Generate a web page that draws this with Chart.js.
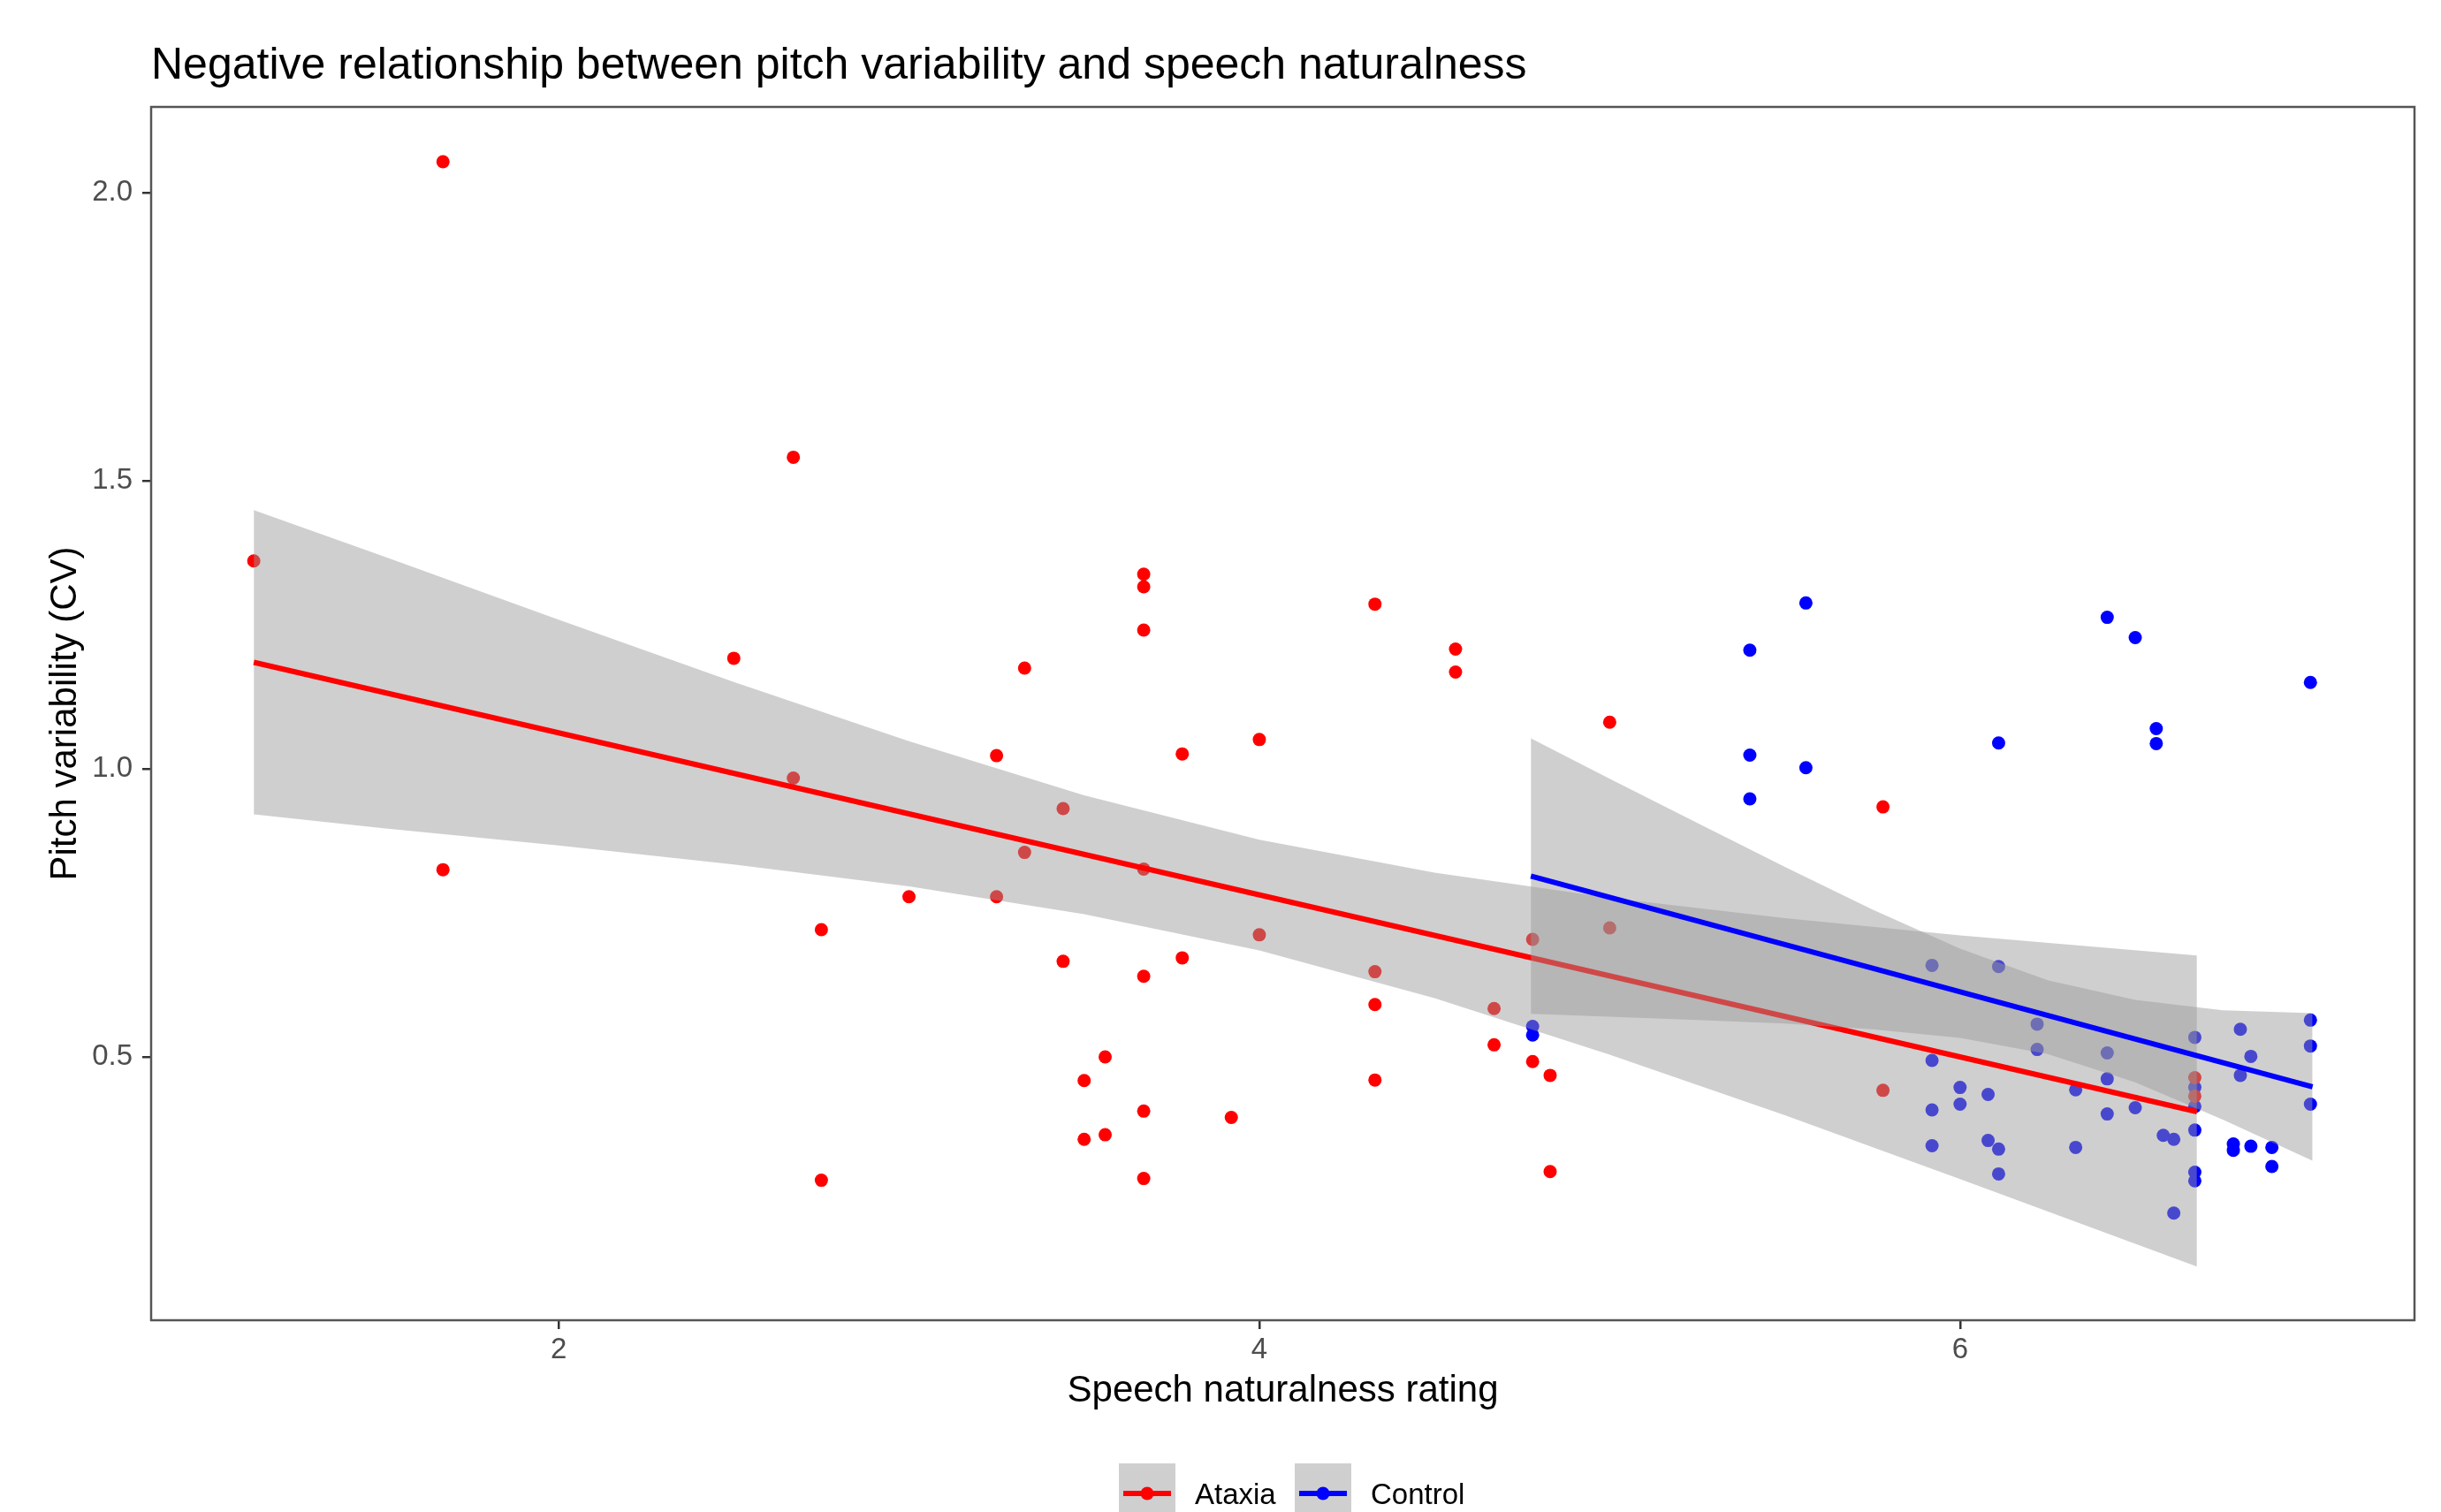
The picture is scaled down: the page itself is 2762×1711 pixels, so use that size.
<!DOCTYPE html>
<html lang="en">
<head>
<meta charset="utf-8">
<title>Pitch variability vs speech naturalness</title>
<script src="https://cdn.jsdelivr.net/npm/chart.js@4.4.0/dist/chart.umd.min.js"></script>
<style>
  html, body { margin: 0; padding: 0; background: #fff; }
</style>
</head>
<body>
<canvas id="myChart" width="2762" height="1711"></canvas>
<script>
// points: Ataxia group (x = naturalness rating, y = pitch CV)
var ataxiaX = [1.13, 1.67, 1.67, 2.5, 2.67, 2.67, 2.75, 2.75, 3.0, 3.25,
               3.25, 3.33, 3.33, 3.44, 3.44, 3.5, 3.5, 3.56, 3.56, 3.67,
               3.67, 3.67, 3.67, 3.67, 3.67, 3.67, 3.78, 3.78, 3.92, 4.0,
               4.0, 4.33, 4.33, 4.33, 4.33, 4.56, 4.56, 4.67, 4.67, 4.78,
               4.78, 4.83, 4.83, 5.0, 5.0, 5.78, 5.78, 6.67, 6.67];
var ataxiaY = [1.361, 2.054, 0.825, 1.192, 1.541, 0.984, 0.721, 0.286, 0.778, 1.023,
               0.778, 1.175, 0.855, 0.931, 0.666, 0.459, 0.357, 0.500, 0.365, 1.338,
               1.316, 1.241, 0.826, 0.640, 0.406, 0.289, 1.026, 0.672, 0.395, 1.051,
               0.712, 1.286, 0.648, 0.591, 0.460, 1.208, 1.168, 0.584, 0.521, 0.704,
               0.492, 0.468, 0.301, 1.081, 0.724, 0.934, 0.442, 0.464, 0.432];

// points: Control group
var controlX = [4.78, 4.78, 5.4, 5.4, 5.4, 5.56, 5.56, 5.92, 5.92, 5.92,
                5.92, 6.0, 6.0, 6.08, 6.08, 6.11, 6.11, 6.11, 6.11, 6.22,
                6.22, 6.33, 6.33, 6.42, 6.42, 6.42, 6.42, 6.5, 6.5, 6.56,
                6.56, 6.58, 6.61, 6.61, 6.67, 6.67, 6.67, 6.67, 6.67, 6.67,
                6.78, 6.78, 6.8, 6.8, 6.83, 6.83, 6.89, 6.89, 7.0, 7.0,
                7.0, 7.0];
var controlY = [0.553, 0.538, 1.206, 1.024, 0.948, 1.288, 1.002, 0.659, 0.494, 0.408,
                0.346, 0.447, 0.418, 0.435, 0.355, 1.045, 0.657, 0.340, 0.297, 0.557,
                0.513, 0.443, 0.343, 1.263, 0.507, 0.462, 0.401, 1.228, 0.412, 1.070,
                1.044, 0.364, 0.357, 0.229, 0.534, 0.447, 0.414, 0.373, 0.300, 0.285,
                0.349, 0.338, 0.548, 0.468, 0.501, 0.345, 0.343, 0.310, 1.150, 0.564,
                0.519, 0.418];

// fitted lines (end points)
var ataxiaLineX = [1.13, 6.676];
var ataxiaLineY = [1.185, 0.405];
var controlLineX = [4.775, 7.006];
var controlLineY = [0.814, 0.448];

// confidence bands
var ataxiaBandX     = [1.13, 1.5, 2.0, 2.5, 3.0, 3.5, 4.0, 4.5, 5.0, 5.5, 6.0, 6.676];
var ataxiaBandUpper = [1.449, 1.369, 1.259, 1.151, 1.048, 0.954, 0.877, 0.820, 0.776, 0.741, 0.711, 0.676];
var ataxiaBandLower = [0.921, 0.897, 0.867, 0.834, 0.796, 0.748, 0.685, 0.602, 0.504, 0.399, 0.288, 0.136];
var controlBandX     = [4.775, 5.0, 5.25, 5.5, 5.75, 6.0, 6.25, 6.5, 6.75, 7.006];
var controlBandUpper = [1.053, 0.983, 0.906, 0.830, 0.756, 0.688, 0.633, 0.599, 0.581, 0.576];
var controlBandLower = [0.575, 0.570, 0.564, 0.558, 0.548, 0.533, 0.505, 0.456, 0.391, 0.320];

// axes
var xTicks = [2, 4, 6];
var yTicks = [0.5, 1.0, 1.5, 2.0];

var FONT = '"Liberation Sans", Arial, Helvetica, sans-serif';
var RIBBON = 'rgba(153,153,153,0.47)';

function pts(xs, ys) {
  return xs.map(function (x, i) { return { x: x, y: ys[i] }; });
}

// タイトル・凡例・枠線
var decor = {
  id: 'decor',
  afterDatasetsDraw: function (chart) {
    var a = chart.chartArea, ctx = chart.ctx;
    ctx.save();
    ctx.strokeStyle = '#555555';
    ctx.lineWidth = 2.5;
    ctx.strokeRect(a.left, a.top, a.right - a.left, a.bottom - a.top);
    ctx.restore();
  },
  afterDraw: function (chart) {
    var a = chart.chartArea, ctx = chart.ctx;
    ctx.save();
    ctx.fillStyle = '#000';
    ctx.font = '50px ' + FONT;
    ctx.textBaseline = 'alphabetic';
    ctx.fillText('Negative relationship between pitch variability and speech naturalness', a.left, 89);

    var items = [
      { label: 'Ataxia', color: '#ff0000', x: 1266 },
      { label: 'Control', color: '#0000ff', x: 1465 }
    ];
    items.forEach(function (it) {
      ctx.fillStyle = RIBBON;
      ctx.fillRect(it.x, 1656, 64, 70);
      ctx.strokeStyle = it.color;
      ctx.lineWidth = 6;
      ctx.beginPath();
      ctx.moveTo(it.x + 5, 1690);
      ctx.lineTo(it.x + 59, 1690);
      ctx.stroke();
      ctx.fillStyle = it.color;
      ctx.beginPath();
      ctx.arc(it.x + 32, 1690, 7.5, 0, Math.PI * 2);
      ctx.fill();
      ctx.fillStyle = '#000';
      ctx.font = '33px ' + FONT;
      ctx.fillText(it.label, it.x + 86, 1702);
    });
    ctx.restore();
  }
};

var ctx = document.getElementById('myChart').getContext('2d');
var chart = new Chart(ctx, {
  type: 'scatter',
  data: {
    datasets: [
      { type: 'scatter', data: pts(ataxiaX, ataxiaY), pointRadius: 7.5, pointBackgroundColor: '#ff0000',
        pointBorderWidth: 0, pointBorderColor: 'rgba(0,0,0,0)', order: 5 },
      { type: 'scatter', data: pts(controlX, controlY), pointRadius: 7.5, pointBackgroundColor: '#0000ff',
        pointBorderWidth: 0, pointBorderColor: 'rgba(0,0,0,0)', order: 5 },
      // Ataxia band
      { type: 'line', data: pts(ataxiaBandX, ataxiaBandLower), showLine: true, pointRadius: 0,
        borderWidth: 1, borderColor: 'rgba(0,0,0,0)', fill: false, order: 4 },
      { type: 'line', data: pts(ataxiaBandX, ataxiaBandUpper), showLine: true, pointRadius: 0,
        borderWidth: 1, borderColor: 'rgba(0,0,0,0)', backgroundColor: RIBBON, fill: '-1', order: 4 },
      { type: 'line', data: pts(ataxiaLineX, ataxiaLineY), showLine: true, pointRadius: 0,
        borderWidth: 6, borderColor: '#ff0000', fill: false, order: 3 },
      // Control band
      { type: 'line', data: pts(controlBandX, controlBandLower), showLine: true, pointRadius: 0,
        borderWidth: 1, borderColor: 'rgba(0,0,0,0)', fill: false, order: 2 },
      { type: 'line', data: pts(controlBandX, controlBandUpper), showLine: true, pointRadius: 0,
        borderWidth: 1, borderColor: 'rgba(0,0,0,0)', backgroundColor: RIBBON, fill: '-1', order: 2 },
      { type: 'line', data: pts(controlLineX, controlLineY), showLine: true, pointRadius: 0,
        borderWidth: 6, borderColor: '#0000ff', fill: false, order: 1 }
    ]
  },
  options: {
    responsive: false,
    animation: false,
    events: [],
    layout: { padding: { left: 0, right: 30, top: 121, bottom: 107 } },
    plugins: {
      legend: { display: false },
      tooltip: { enabled: false },
      title: { display: false }
    },
    scales: {
      x: {
        type: 'linear', min: 0.837, max: 7.297,
        afterBuildTicks: function (s) { s.ticks = xTicks.map(function (v) { return { value: v }; }); },
        afterFit: function (s) { s.height = 110; },
        ticks: { font: { family: FONT, size: 33 }, color: '#4d4d4d', padding: 4, maxRotation: 0,
                 callback: function (v) { return String(v); } },
        grid: { drawOnChartArea: false, drawTicks: true, tickLength: 10, color: '#333333', lineWidth: 2.5 },
        border: { display: false },
        title: { display: true, text: 'Speech naturalness rating', color: '#000',
                 font: { family: FONT, size: 42 }, padding: { top: 0, bottom: 4 } }
      },
      y: {
        type: 'linear', min: 0.043, max: 2.149,
        afterBuildTicks: function (s) { s.ticks = yTicks.map(function (v) { return { value: v }; }); },
        afterFit: function (s) { s.width = 171; },
        ticks: { font: { family: FONT, size: 33 }, color: '#4d4d4d', padding: 11,
                 callback: function (v) { return v.toFixed(1); } },
        grid: { drawOnChartArea: false, drawTicks: true, tickLength: 10, color: '#333333', lineWidth: 2.5 },
        border: { display: false },
        title: { display: true, text: 'Pitch variability (CV)', color: '#000',
                 font: { family: FONT, size: 42 }, padding: { top: 49, bottom: 0 } }
      }
    }
  },
  plugins: [decor]
});
</script>
</body>
</html>
